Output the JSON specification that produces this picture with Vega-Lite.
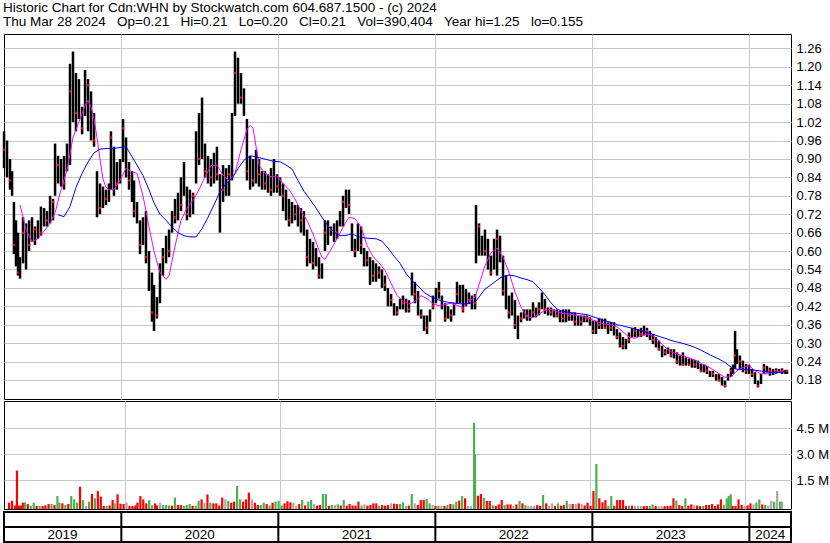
{
"$schema": "https://vega.github.io/schema/vega-lite/v6.json",
"background": "white",
"padding": {"left": 2, "top": 0, "right": 0, "bottom": 0},
"spacing": 0,
"title": {"text": ["Historic Chart for Cdn:WHN by Stockwatch.com 604.687.1500 - (c) 2024", "Thu Mar 28 2024 \u00a0\u00a0Op=0.21 \u00a0\u00a0Hi=0.21 \u00a0\u00a0Lo=0.20 \u00a0\u00a0Cl=0.21 \u00a0\u00a0Vol=390,404 \u00a0\u00a0Year hi=1.25 \u00a0\u00a0lo=0.155"], "anchor": "start", "frame": "bounds", "font": "Liberation Sans", "fontSize": 13.5, "fontWeight": "normal", "color": "black", "lineHeight": 14.5, "offset": 5, "dx": 1},
"config": {"title": {"font": "Liberation Sans", "fontSize": 13.5, "fontWeight": "normal", "color": "black", "anchor": "start"}, "view": {"stroke": "black", "strokeWidth": 1}, "axis": {"labelFont": "Liberation Sans", "labelFontSize": 13, "labelColor": "black", "labelOverlap": false}, "text": {"font": "Liberation Sans"}},
"datasets": {
"d": [
{"t":2019.253,"h":0.99,"l":0.87,"c":0.93,"v":210,"k":"r"},
{"t":2019.272,"h":0.96,"l":0.84,"v":320,"k":"r"},
{"t":2019.291,"h":0.90,"l":0.80,"c":0.83,"v":50,"k":"r"},
{"t":2019.304,"h":0.86,"l":0.78,"v":2060,"k":"r"},
{"t":2019.316,"h":0.76,"l":0.59,"c":0.62,"v":40,"k":"r"},
{"t":2019.329,"h":0.70,"l":0.55,"v":50,"k":"r"},
{"t":2019.342,"h":0.66,"l":0.52,"c":0.53,"v":210,"k":"r"},
{"t":2019.355,"h":0.58,"l":0.51,"v":230,"k":"g","a":0.75},
{"t":2019.374,"h":0.71,"l":0.56,"c":0.66,"v":130,"k":"r"},
{"t":2019.393,"h":0.69,"l":0.54,"v":30,"k":"g","a":0.67},
{"t":2019.412,"h":0.70,"l":0.60,"c":0.62,"v":210,"k":"g"},
{"t":2019.431,"h":0.71,"l":0.63,"v":20,"k":"r","a":0.63},
{"t":2019.450,"h":0.68,"l":0.62,"c":0.67,"v":30,"k":"g"},
{"t":2019.469,"h":0.70,"l":0.64,"v":20,"k":"r","a":0.64},
{"t":2019.488,"h":0.745,"l":0.65,"c":0.66,"v":50,"k":"r"},
{"t":2019.508,"h":0.74,"l":0.68,"v":130,"k":"r","a":0.665},
{"t":2019.527,"h":0.73,"l":0.68,"c":0.70,"v":130,"k":"g"},
{"t":2019.546,"h":0.78,"l":0.69,"v":70,"k":"r","a":0.69},
{"t":2019.565,"h":0.77,"l":0.70,"c":0.76,"v":590,"k":"g"},
{"t":2019.578,"h":0.95,"l":0.78,"v":210,"k":"g","a":0.725},
{"t":2019.597,"h":0.91,"l":0.82,"c":0.88,"v":170,"k":"r","b":0.718},
{"t":2019.616,"h":0.90,"l":0.81,"v":70,"k":"g","a":0.80},
{"t":2019.635,"h":0.91,"l":0.80,"c":0.82,"v":130,"k":"r","b":0.712},
{"t":2019.654,"h":0.95,"l":0.86,"v":590,"k":"g","a":0.864},
{"t":2019.673,"h":1.21,"l":0.88,"c":1.12,"v":400,"k":"g","b":0.745},
{"t":2019.692,"h":1.25,"l":1.02,"v":210,"k":"g","a":0.97},
{"t":2019.711,"h":1.18,"l":0.99,"c":1.05,"v":1130,"k":"r","b":0.807},
{"t":2019.730,"h":1.16,"l":1.03,"v":360,"k":"g","a":1.02},
{"t":2019.750,"h":1.07,"l":0.98,"c":1.00,"v":20,"k":"n","b":0.853},
{"t":2019.769,"h":1.19,"l":1.04,"v":270,"k":"g","a":1.075},
{"t":2019.788,"h":1.16,"l":0.99,"c":1.14,"v":710,"k":"r","a":1.09,"b":0.89},
{"t":2019.807,"h":1.12,"l":0.96,"v":460,"k":"g","a":1.07},
{"t":2019.826,"h":1.05,"l":0.94,"c":0.96,"v":880,"k":"r","a":1.03,"b":0.92},
{"t":2019.845,"h":0.86,"l":0.71,"v":560,"k":"r","a":0.97},
{"t":2019.864,"h":0.82,"l":0.72,"c":0.74,"v":20,"k":"r","a":0.90,"b":0.932},
{"t":2019.883,"h":0.81,"l":0.74,"v":20,"k":"g","a":0.835},
{"t":2019.902,"h":0.80,"l":0.75,"c":0.77,"v":50,"k":"r","a":0.808,"b":0.934},
{"t":2019.921,"h":0.82,"l":0.76,"v":360,"k":"r","a":0.80},
{"t":2019.934,"h":0.99,"l":0.80,"c":0.97,"v":170,"k":"g"},
{"t":2019.953,"h":0.94,"l":0.78,"v":690,"k":"r","a":0.80,"b":0.934},
{"t":2019.972,"h":0.89,"l":0.80,"c":0.82,"v":150,"k":"r"},
{"t":2019.992,"h":0.90,"l":0.82,"v":130,"k":"r","a":0.83,"b":0.938},
{"t":2020.011,"h":1.03,"l":0.89,"c":1.00,"v":210,"k":"n"},
{"t":2020.030,"h":0.97,"l":0.84,"v":20,"k":"r","a":0.87,"b":0.94},
{"t":2020.049,"h":0.89,"l":0.80,"c":0.83,"v":20,"k":"r"},
{"t":2020.068,"h":0.86,"l":0.76,"v":50,"k":"r","a":0.858,"b":0.907},
{"t":2020.081,"h":0.83,"l":0.71,"c":0.73,"v":210,"k":"r"},
{"t":2020.100,"h":0.76,"l":0.69,"v":590,"k":"r","a":0.853,"b":0.88},
{"t":2020.119,"h":0.70,"l":0.59,"c":0.62,"v":400,"k":"r"},
{"t":2020.138,"h":0.71,"l":0.62,"v":170,"k":"r","a":0.78,"b":0.846},
{"t":2020.157,"h":0.73,"l":0.56,"c":0.58,"v":360,"k":"g"},
{"t":2020.176,"h":0.60,"l":0.47,"v":60,"k":"g","a":0.68,"b":0.80},
{"t":2020.195,"h":0.53,"l":0.37,"c":0.40,"v":170,"k":"r"},
{"t":2020.208,"h":0.49,"l":0.34,"v":50,"k":"r","a":0.60,"b":0.757},
{"t":2020.227,"h":0.45,"l":0.38,"c":0.39,"v":210,"k":"n"},
{"t":2020.246,"h":0.56,"l":0.43,"v":70,"k":"g","a":0.53,"b":0.72},
{"t":2020.265,"h":0.61,"l":0.52,"c":0.58,"v":70,"k":"g"},
{"t":2020.285,"h":0.65,"l":0.56,"v":50,"k":"g","a":0.508,"b":0.70},
{"t":2020.304,"h":0.67,"l":0.58,"c":0.60,"v":40,"k":"r","a":0.52},
{"t":2020.323,"h":0.73,"l":0.66,"v":500,"k":"g","b":0.678},
{"t":2020.342,"h":0.77,"l":0.69,"c":0.71,"v":70,"k":"r","a":0.615},
{"t":2020.361,"h":0.79,"l":0.70,"v":70,"k":"r","b":0.66},
{"t":2020.380,"h":0.84,"l":0.73,"c":0.75,"v":30,"k":"g","a":0.70},
{"t":2020.399,"h":0.89,"l":0.78,"v":70,"k":"g","b":0.65},
{"t":2020.418,"h":0.81,"l":0.70,"c":0.72,"v":130,"k":"g","a":0.74},
{"t":2020.437,"h":0.80,"l":0.71,"v":30,"k":"r","b":0.646},
{"t":2020.457,"h":0.79,"l":0.72,"c":0.78,"v":30,"k":"g","a":0.765},
{"t":2020.476,"h":0.99,"l":0.82,"v":320,"k":"g","b":0.646},
{"t":2020.495,"h":1.05,"l":0.88,"c":0.90,"v":400,"k":"r","a":0.80},
{"t":2020.514,"h":1.10,"l":0.90,"v":210,"k":"n","b":0.673},
{"t":2020.533,"h":0.95,"l":0.84,"c":0.86,"v":690,"k":"r","a":0.842},
{"t":2020.552,"h":0.91,"l":0.82,"v":210,"k":"g","b":0.71},
{"t":2020.571,"h":0.90,"l":0.81,"c":0.84,"v":170,"k":"r","a":0.878},
{"t":2020.590,"h":0.92,"l":0.82,"v":170,"k":"r","b":0.75},
{"t":2020.609,"h":0.94,"l":0.83,"c":0.85,"v":50,"k":"r","a":0.88},
{"t":2020.628,"h":0.85,"l":0.66,"v":500,"k":"r","b":0.793},
{"t":2020.648,"h":0.88,"l":0.76,"c":0.80,"v":400,"k":"n","a":0.847},
{"t":2020.667,"h":0.87,"l":0.78,"v":320,"k":"g","b":0.82},
{"t":2020.686,"h":0.88,"l":0.78,"c":0.85,"v":210,"k":"r","a":0.828},
{"t":2020.705,"h":1.05,"l":0.83,"v":270,"k":"r","b":0.837},
{"t":2020.724,"h":1.25,"l":1.04,"c":1.18,"v":1170,"k":"g","a":0.853},
{"t":2020.743,"h":1.23,"l":1.08,"v":400,"k":"g","b":0.868},
{"t":2020.762,"h":1.18,"l":1.08,"c":1.10,"v":270,"k":"r","a":0.93},
{"t":2020.781,"h":1.13,"l":1.04,"v":400,"k":"r","b":0.896},
{"t":2020.800,"h":1.03,"l":0.83,"c":0.86,"v":790,"k":"r","a":0.995},
{"t":2020.820,"h":0.91,"l":0.80,"v":400,"k":"n","a":1.01,"b":0.91},
{"t":2020.839,"h":0.90,"l":0.81,"c":0.83,"v":210,"k":"r","a":1.00},
{"t":2020.858,"h":0.93,"l":0.82,"v":70,"k":"r","a":0.94,"b":0.907},
{"t":2020.877,"h":0.90,"l":0.81,"c":0.85,"v":70,"k":"g","a":0.88},
{"t":2020.896,"h":0.86,"l":0.80,"v":210,"k":"g","b":0.902},
{"t":2020.915,"h":0.86,"l":0.80,"c":0.82,"v":130,"k":"r","a":0.853},
{"t":2020.934,"h":0.85,"l":0.79,"v":40,"k":"g","b":0.897},
{"t":2020.953,"h":0.87,"l":0.78,"c":0.80,"v":210,"k":"r","a":0.842},
{"t":2020.972,"h":0.90,"l":0.79,"v":270,"k":"g","b":0.892},
{"t":2020.992,"h":0.85,"l":0.79,"c":0.81,"v":320,"k":"g","a":0.845},
{"t":2021.011,"h":0.84,"l":0.78,"v":50,"k":"g","b":0.891},
{"t":2021.030,"h":0.82,"l":0.73,"c":0.78,"v":170,"k":"r","a":0.82},
{"t":2021.049,"h":0.80,"l":0.70,"v":290,"k":"r","b":0.88},
{"t":2021.068,"h":0.77,"l":0.68,"c":0.70,"v":230,"k":"r","a":0.80},
{"t":2021.087,"h":0.76,"l":0.69,"v":210,"k":"n","b":0.867},
{"t":2021.106,"h":0.75,"l":0.70,"c":0.72,"v":40,"k":"n","a":0.77},
{"t":2021.125,"h":0.75,"l":0.68,"v":130,"k":"r","b":0.83},
{"t":2021.144,"h":0.74,"l":0.66,"c":0.70,"v":360,"k":"g","a":0.73},
{"t":2021.163,"h":0.73,"l":0.65,"v":50,"k":"r","b":0.795},
{"t":2021.183,"h":0.67,"l":0.55,"c":0.58,"v":270,"k":"g","a":0.70},
{"t":2021.202,"h":0.64,"l":0.56,"v":360,"k":"g","b":0.768},
{"t":2021.221,"h":0.63,"l":0.54,"c":0.56,"v":130,"k":"n","a":0.655},
{"t":2021.240,"h":0.61,"l":0.55,"v":40,"k":"r","b":0.74},
{"t":2021.259,"h":0.58,"l":0.51,"c":0.52,"v":70,"k":"r","a":0.603},
{"t":2021.278,"h":0.56,"l":0.51,"v":710,"k":"g","a":0.58,"b":0.71},
{"t":2021.297,"h":0.70,"l":0.60,"c":0.66,"v":710,"k":"g","a":0.573},
{"t":2021.316,"h":0.70,"l":0.62,"v":30,"k":"r","b":0.682},
{"t":2021.335,"h":0.68,"l":0.65,"c":0.67,"v":70,"k":"g","a":0.605},
{"t":2021.355,"h":0.69,"l":0.63,"v":70,"k":"n","b":0.662},
{"t":2021.374,"h":0.70,"l":0.64,"c":0.66,"v":110,"k":"g","a":0.64},
{"t":2021.393,"h":0.73,"l":0.68,"v":50,"k":"r","b":0.65},
{"t":2021.412,"h":0.78,"l":0.68,"c":0.76,"v":360,"k":"g","a":0.678},
{"t":2021.431,"h":0.80,"l":0.74,"v":40,"k":"r","b":0.651},
{"t":2021.450,"h":0.80,"l":0.72,"c":0.75,"v":130,"k":"r","a":0.71},
{"t":2021.469,"h":0.69,"l":0.60,"v":50,"k":"r","b":0.656},
{"t":2021.488,"h":0.64,"l":0.58,"c":0.60,"v":40,"k":"r","a":0.706},
{"t":2021.507,"h":0.69,"l":0.60,"v":270,"k":"r","b":0.647},
{"t":2021.527,"h":0.68,"l":0.59,"c":0.62,"v":40,"k":"g","a":0.678},
{"t":2021.546,"h":0.61,"l":0.55,"v":110,"k":"n","b":0.643},
{"t":2021.565,"h":0.60,"l":0.55,"c":0.57,"v":40,"k":"r","a":0.618},
{"t":2021.584,"h":0.58,"l":0.49,"v":70,"k":"r","b":0.641},
{"t":2021.603,"h":0.57,"l":0.50,"c":0.52,"v":170,"k":"r","a":0.582},
{"t":2021.622,"h":0.56,"l":0.50,"v":170,"k":"r","b":0.64},
{"t":2021.641,"h":0.55,"l":0.51,"c":0.53,"v":40,"k":"g","a":0.562},
{"t":2021.660,"h":0.54,"l":0.48,"v":70,"k":"r","b":0.632},
{"t":2021.679,"h":0.52,"l":0.47,"c":0.49,"v":40,"k":"r","a":0.537},
{"t":2021.698,"h":0.48,"l":0.42,"v":70,"k":"r","b":0.61},
{"t":2021.718,"h":0.46,"l":0.42,"c":0.44,"v":170,"k":"n","a":0.495},
{"t":2021.737,"h":0.43,"l":0.39,"v":150,"k":"r","b":0.583},
{"t":2021.756,"h":0.42,"l":0.39,"c":0.40,"v":130,"k":"r","a":0.455},
{"t":2021.775,"h":0.445,"l":0.41,"v":130,"k":"g","b":0.56},
{"t":2021.794,"h":0.455,"l":0.41,"c":0.43,"v":230,"k":"g","a":0.438},
{"t":2021.813,"h":0.445,"l":0.40,"v":20,"k":"n","b":0.527},
{"t":2021.832,"h":0.44,"l":0.40,"c":0.41,"v":40,"k":"r","a":0.427},
{"t":2021.851,"h":0.53,"l":0.455,"v":710,"k":"g","b":0.504},
{"t":2021.870,"h":0.50,"l":0.43,"c":0.46,"v":170,"k":"n","a":0.436},
{"t":2021.890,"h":0.47,"l":0.39,"v":80,"k":"r","b":0.486},
{"t":2021.909,"h":0.41,"l":0.38,"c":0.39,"v":360,"k":"r","a":0.455},
{"t":2021.928,"h":0.39,"l":0.34,"v":360,"k":"r","b":0.465},
{"t":2021.947,"h":0.39,"l":0.33,"c":0.35,"v":420,"k":"g","a":0.445},
{"t":2021.966,"h":0.41,"l":0.37,"v":170,"k":"g","b":0.453},
{"t":2021.985,"h":0.455,"l":0.41,"c":0.42,"v":70,"k":"n","a":0.428},
{"t":2022.004,"h":0.48,"l":0.43,"v":20,"k":"r","b":0.444},
{"t":2022.023,"h":0.50,"l":0.445,"c":0.47,"v":40,"k":"g","a":0.422},
{"t":2022.042,"h":0.455,"l":0.41,"v":20,"k":"n","b":0.437},
{"t":2022.062,"h":0.43,"l":0.37,"c":0.38,"v":20,"k":"r","a":0.426},
{"t":2022.081,"h":0.42,"l":0.38,"v":70,"k":"g","b":0.433},
{"t":2022.100,"h":0.41,"l":0.37,"c":0.39,"v":130,"k":"r","a":0.43},
{"t":2022.119,"h":0.43,"l":0.39,"v":110,"k":"g","b":0.431},
{"t":2022.138,"h":0.50,"l":0.43,"c":0.46,"v":270,"k":"g","a":0.423},
{"t":2022.157,"h":0.49,"l":0.43,"v":330,"k":"r","b":0.428},
{"t":2022.176,"h":0.49,"l":0.40,"c":0.41,"v":590,"k":"g","a":0.415},
{"t":2022.195,"h":0.476,"l":0.42,"v":460,"k":"r","b":0.428},
{"t":2022.214,"h":0.465,"l":0.427,"c":0.44,"v":20,"k":"n","a":0.435},
{"t":2022.233,"h":0.455,"l":0.41,"v":20,"k":"n","b":0.432},
{"t":2022.253,"h":0.46,"l":0.41,"c":0.43,"v":4820,"k":"g","a":0.45},
{"t":2022.259,"h":0.75,"l":0.56,"v":3000,"k":"g","b":0.437},
{"t":2022.278,"h":0.69,"l":0.585,"c":0.68,"v":610,"k":"r","a":0.49,"b":0.45},
{"t":2022.297,"h":0.65,"l":0.585,"v":710,"k":"r"},
{"t":2022.316,"h":0.67,"l":0.585,"c":0.60,"v":480,"k":"g","a":0.552,"b":0.476},
{"t":2022.335,"h":0.64,"l":0.54,"v":310,"k":"r"},
{"t":2022.354,"h":0.585,"l":0.52,"c":0.53,"v":310,"k":"r","a":0.594,"b":0.49},
{"t":2022.374,"h":0.64,"l":0.54,"v":60,"k":"g"},
{"t":2022.393,"h":0.67,"l":0.52,"c":0.64,"v":30,"k":"r","a":0.61,"b":0.505},
{"t":2022.412,"h":0.65,"l":0.563,"v":110,"k":"r"},
{"t":2022.431,"h":0.585,"l":0.455,"c":0.47,"v":360,"k":"r","a":0.58,"b":0.518},
{"t":2022.450,"h":0.52,"l":0.41,"v":70,"k":"g"},
{"t":2022.469,"h":0.455,"l":0.38,"c":0.40,"v":110,"k":"r","a":0.53,"b":0.522},
{"t":2022.488,"h":0.465,"l":0.39,"v":110,"k":"r"},
{"t":2022.507,"h":0.44,"l":0.346,"c":0.36,"v":20,"k":"n","a":0.467,"b":0.519},
{"t":2022.526,"h":0.39,"l":0.313,"v":110,"k":"r"},
{"t":2022.546,"h":0.40,"l":0.368,"c":0.38,"v":310,"k":"g","a":0.417,"b":0.512},
{"t":2022.565,"h":0.41,"l":0.38,"v":170,"k":"r"},
{"t":2022.584,"h":0.41,"l":0.373,"c":0.39,"v":60,"k":"g","a":0.385,"b":0.507},
{"t":2022.603,"h":0.41,"l":0.373,"v":20,"k":"n"},
{"t":2022.622,"h":0.433,"l":0.384,"c":0.40,"v":20,"k":"n","a":0.383,"b":0.50},
{"t":2022.641,"h":0.416,"l":0.384,"v":20,"k":"n"},
{"t":2022.660,"h":0.433,"l":0.39,"c":0.41,"v":70,"k":"r","a":0.395,"b":0.48},
{"t":2022.679,"h":0.465,"l":0.41,"v":30,"k":"r"},
{"t":2022.698,"h":0.444,"l":0.395,"c":0.41,"v":650,"k":"g","a":0.407,"b":0.458},
{"t":2022.718,"h":0.416,"l":0.39,"v":170,"k":"r"},
{"t":2022.737,"h":0.416,"l":0.39,"c":0.40,"v":30,"k":"n","a":0.41,"b":0.431},
{"t":2022.756,"h":0.41,"l":0.384,"v":170,"k":"n"},
{"t":2022.775,"h":0.41,"l":0.384,"c":0.39,"v":30,"k":"r","a":0.402,"b":0.411},
{"t":2022.794,"h":0.405,"l":0.368,"v":170,"k":"g"},
{"t":2022.813,"h":0.41,"l":0.368,"c":0.38,"v":40,"k":"r","a":0.396,"b":0.403},
{"t":2022.832,"h":0.41,"l":0.368,"v":70,"k":"r"},
{"t":2022.851,"h":0.41,"l":0.373,"c":0.39,"v":310,"k":"g","a":0.395,"b":0.40},
{"t":2022.870,"h":0.40,"l":0.373,"v":130,"k":"n"},
{"t":2022.889,"h":0.40,"l":0.357,"c":0.37,"v":130,"k":"r","a":0.392,"b":0.398},
{"t":2022.909,"h":0.39,"l":0.357,"v":130,"k":"n"},
{"t":2022.928,"h":0.39,"l":0.357,"c":0.37,"v":170,"k":"r","a":0.388,"b":0.395},
{"t":2022.947,"h":0.39,"l":0.368,"v":130,"k":"n"},
{"t":2022.966,"h":0.39,"l":0.368,"c":0.38,"v":50,"k":"r","a":0.384,"b":0.393},
{"t":2022.985,"h":0.384,"l":0.357,"v":210,"k":"r"},
{"t":2023.004,"h":0.373,"l":0.33,"c":0.34,"v":20,"k":"r","a":0.375,"b":0.386},
{"t":2023.023,"h":0.373,"l":0.33,"v":880,"k":"r"},
{"t":2023.042,"h":0.38,"l":0.346,"c":0.36,"v":2440,"k":"g","a":0.368,"b":0.38},
{"t":2023.061,"h":0.38,"l":0.346,"v":460,"k":"r"},
{"t":2023.081,"h":0.38,"l":0.346,"c":0.35,"v":230,"k":"r","a":0.362,"b":0.373},
{"t":2023.100,"h":0.368,"l":0.33,"v":360,"k":"r"},
{"t":2023.119,"h":0.368,"l":0.34,"c":0.35,"v":30,"k":"g","a":0.36,"b":0.368},
{"t":2023.138,"h":0.368,"l":0.325,"v":590,"k":"g"},
{"t":2023.157,"h":0.346,"l":0.313,"c":0.32,"v":30,"k":"r","a":0.353,"b":0.36},
{"t":2023.176,"h":0.335,"l":0.286,"v":360,"k":"r"},
{"t":2023.195,"h":0.32,"l":0.28,"c":0.29,"v":360,"k":"r","a":0.337,"b":0.356},
{"t":2023.214,"h":0.314,"l":0.28,"v":360,"k":"r"},
{"t":2023.233,"h":0.335,"l":0.30,"c":0.31,"v":20,"k":"r","a":0.32,"b":0.351},
{"t":2023.253,"h":0.35,"l":0.32,"v":40,"k":"g"},
{"t":2023.272,"h":0.352,"l":0.32,"c":0.34,"v":40,"k":"r","a":0.316,"b":0.346},
{"t":2023.291,"h":0.346,"l":0.32,"v":10,"k":"n"},
{"t":2023.310,"h":0.35,"l":0.32,"c":0.33,"v":10,"k":"n","a":0.324,"b":0.341},
{"t":2023.329,"h":0.357,"l":0.325,"v":10,"k":"n"},
{"t":2023.348,"h":0.35,"l":0.32,"c":0.34,"v":10,"k":"r","a":0.33,"b":0.335},
{"t":2023.367,"h":0.34,"l":0.31,"v":20,"k":"r"},
{"t":2023.386,"h":0.33,"l":0.297,"c":0.31,"v":20,"k":"g","a":0.324,"b":0.329},
{"t":2023.405,"h":0.32,"l":0.286,"v":110,"k":"g"},
{"t":2023.424,"h":0.308,"l":0.276,"c":0.28,"v":20,"k":"r","a":0.308,"b":0.322},
{"t":2023.444,"h":0.292,"l":0.254,"v":10,"k":"n"},
{"t":2023.463,"h":0.28,"l":0.26,"c":0.27,"v":10,"k":"n","a":0.287,"b":0.316},
{"t":2023.482,"h":0.286,"l":0.265,"v":10,"k":"r"},
{"t":2023.501,"h":0.28,"l":0.254,"c":0.26,"v":20,"k":"r","a":0.272,"b":0.309},
{"t":2023.520,"h":0.28,"l":0.25,"v":30,"k":"r"},
{"t":2023.539,"h":0.27,"l":0.232,"c":0.24,"v":460,"k":"r","a":0.265,"b":0.304},
{"t":2023.558,"h":0.26,"l":0.227,"v":330,"k":"g"},
{"t":2023.577,"h":0.27,"l":0.227,"c":0.23,"v":70,"k":"r","a":0.259,"b":0.299},
{"t":2023.596,"h":0.254,"l":0.227,"v":20,"k":"r"},
{"t":2023.616,"h":0.25,"l":0.227,"c":0.23,"v":460,"k":"g","a":0.252,"b":0.293},
{"t":2023.635,"h":0.248,"l":0.22,"v":40,"k":"r"},
{"t":2023.654,"h":0.245,"l":0.22,"c":0.23,"v":110,"k":"r","a":0.245,"b":0.286},
{"t":2023.673,"h":0.243,"l":0.216,"v":70,"k":"n"},
{"t":2023.692,"h":0.232,"l":0.205,"c":0.21,"v":40,"k":"r","a":0.234,"b":0.277},
{"t":2023.711,"h":0.23,"l":0.205,"v":20,"k":"r"},
{"t":2023.730,"h":0.226,"l":0.20,"c":0.21,"v":20,"k":"g","a":0.225,"b":0.267},
{"t":2023.749,"h":0.21,"l":0.19,"v":70,"k":"r"},
{"t":2023.768,"h":0.21,"l":0.19,"c":0.20,"v":70,"k":"r","a":0.214,"b":0.257},
{"t":2023.788,"h":0.20,"l":0.178,"v":130,"k":"r"},
{"t":2023.807,"h":0.20,"l":0.175,"c":0.18,"v":20,"k":"r","a":0.20,"b":0.248},
{"t":2023.826,"h":0.19,"l":0.162,"v":110,"k":"r"},
{"t":2023.845,"h":0.178,"l":0.156,"c":0.16,"v":400,"k":"r","a":0.189,"b":0.237},
{"t":2023.864,"h":0.20,"l":0.178,"v":70,"k":"g"},
{"t":2023.883,"h":0.22,"l":0.19,"c":0.21,"v":460,"k":"g","a":0.19,"b":0.222},
{"t":2023.896,"h":0.23,"l":0.20,"v":590,"k":"g"},
{"t":2023.909,"h":0.34,"l":0.216,"c":0.26,"v":690,"k":"g"},
{"t":2023.921,"h":0.28,"l":0.232,"v":20,"k":"r","a":0.21,"b":0.215},
{"t":2023.940,"h":0.26,"l":0.216,"c":0.24,"v":20,"k":"r"},
{"t":2023.959,"h":0.243,"l":0.205,"v":400,"k":"r","a":0.221,"b":0.214},
{"t":2023.979,"h":0.232,"l":0.20,"c":0.21,"v":70,"k":"r"},
{"t":2023.998,"h":0.23,"l":0.20,"v":20,"k":"n","a":0.227,"b":0.214},
{"t":2024.017,"h":0.216,"l":0.19,"c":0.20,"v":50,"k":"r"},
{"t":2024.036,"h":0.205,"l":0.167,"v":170,"k":"r","a":0.21,"b":0.212},
{"t":2024.055,"h":0.178,"l":0.156,"c":0.16,"v":110,"k":"n"},
{"t":2024.074,"h":0.20,"l":0.167,"v":210,"k":"g","a":0.20,"b":0.209},
{"t":2024.093,"h":0.232,"l":0.20,"c":0.22,"v":400,"k":"g"},
{"t":2024.112,"h":0.226,"l":0.205,"v":110,"k":"r","a":0.20,"b":0.206},
{"t":2024.131,"h":0.22,"l":0.194,"c":0.21,"v":70,"k":"g"},
{"t":2024.151,"h":0.216,"l":0.196,"v":40,"k":"n","a":0.205,"b":0.205},
{"t":2024.170,"h":0.218,"l":0.20,"c":0.21,"v":310,"k":"n"},
{"t":2024.189,"h":0.216,"l":0.203,"v":270,"k":"g","a":0.206,"b":0.205},
{"t":2024.208,"h":0.218,"l":0.20,"c":0.21,"v":880,"k":"n"},
{"t":2024.227,"h":0.213,"l":0.20,"v":270,"k":"g","a":0.209,"b":0.206},
{"t":2024.240,"h":0.21,"l":0.20,"c":0.21,"v":270,"k":"n"}
],
"years": [{"yr":2020},{"yr":2021},{"yr":2022},{"yr":2023},{"yr":2024}],
"labels": [{"m":2019.626,"lab":"2019"},{"m":2020.5,"lab":"2020"},{"m":2021.5,"lab":"2021"},{"m":2022.5,"lab":"2022"},{"m":2023.5,"lab":"2023"},{"m":2024.133,"lab":"2024"}]
},
"vconcat": [
{
 "width": 787, "height": 365,
 "data": {"name": "d"},
 "encoding": {"x": {"field": "t", "type": "quantitative", "title": null, "scale": {"domain": [2019.2527, 2024.2652], "nice": false, "zero": false}, "axis": {"values": [2020, 2021, 2022, 2023, 2024], "tickCount": 40, "labels": false, "ticks": false, "domain": false, "grid": true, "gridColor": "#c8c8c8", "title": null}}},
 "layer": [
  {"mark": {"type": "rule", "color": "black", "strokeWidth": 2.5}, "encoding": {"y": {"field": "h", "type": "quantitative", "title": null, "scale": {"domain": [0.1181, 1.307], "nice": false, "zero": false}, "axis": {"orient": "right", "values": [0.18, 0.24, 0.30, 0.36, 0.42, 0.48, 0.54, 0.60, 0.66, 0.72, 0.78, 0.84, 0.90, 0.96, 1.02, 1.08, 1.14, 1.20, 1.26], "tickCount": 40, "format": ".2f", "grid": true, "gridColor": "#c8c8c8", "ticks": false, "domain": false, "labelPadding": 5, "labelOverlap": false, "title": null}}, "y2": {"field": "l"}}},
  {"transform": [{"filter": "isValid(datum.c)"}], "mark": {"type": "square", "color": "red", "size": 5, "opacity": 1}, "encoding": {"y": {"field": "c", "type": "quantitative", "title": null}}},
  {"transform": [{"filter": "isValid(datum.a)"}], "mark": {"type": "line", "color": "#ff00ff", "strokeWidth": 1}, "encoding": {"y": {"field": "a", "type": "quantitative", "title": null}}},
  {"transform": [{"filter": "isValid(datum.b)"}], "mark": {"type": "line", "color": "#0000ff", "strokeWidth": 1}, "encoding": {"y": {"field": "b", "type": "quantitative", "title": null}}},
  {"data": {"values": [{"lab": "Cdn:WHN"}]}, "mark": {"type": "text", "align": "left", "baseline": "middle", "fontSize": 13.5, "color": "black"}, "encoding": {"x": {"datum": 2019.291}, "y": {"datum": 1.281}, "text": {"field": "lab"}}}
 ]
},
{
 "width": 787, "height": 108,
 "data": {"name": "d"},
 "encoding": {"x": {"field": "t", "type": "quantitative", "title": null, "scale": {"domain": [2019.2527, 2024.2652], "nice": false, "zero": false}, "axis": {"values": [2020, 2021, 2022, 2023, 2024], "tickCount": 40, "labels": false, "ticks": false, "domain": false, "grid": true, "gridColor": "#c8c8c8", "title": null}}},
 "layer": [
  {"mark": {"type": "bar", "width": 2.2}, "encoding": {"y": {"field": "v", "type": "quantitative", "title": null, "scale": {"domain": [-156, 6076], "nice": false, "zero": false}, "axis": {"orient": "right", "values": [1500, 3000, 4500], "tickCount": 40, "labelExpr": "format(datum.value/1000, '.1f') + ' M'", "grid": true, "gridColor": "#c8c8c8", "ticks": false, "domain": false, "labelPadding": 5, "title": null}}, "y2": {"datum": -156}, "color": {"field": "k", "type": "nominal", "scale": {"domain": ["r", "g", "n"], "range": ["#ff0000", "#4caf50", "#a8a8a8"]}, "legend": null}}},
  {"data": {"values": [{"lab": "Volume"}]}, "mark": {"type": "text", "align": "left", "baseline": "middle", "fontSize": 13.5, "color": "black"}, "encoding": {"x": {"datum": 2019.291}, "y": {"datum": 5380}, "text": {"field": "lab"}}}
 ]
},
{
 "width": 787, "height": 30,
 "view": {"stroke": "black", "strokeWidth": 2},
 "layer": [
  {"data": {"name": "years"}, "mark": {"type": "rule", "color": "black", "strokeWidth": 2}, "encoding": {"x": {"field": "yr", "type": "quantitative", "scale": {"domain": [2019.2527, 2024.2652], "nice": false, "zero": false}, "axis": null}}},
  {"data": {"values": [{}]}, "mark": {"type": "rule", "color": "black", "strokeWidth": 2}, "encoding": {"y": {"datum": 1.0, "scale": {"domain": [0, 2], "nice": false}, "axis": null}}},
  {"data": {"name": "labels"}, "mark": {"type": "text", "fontSize": 13.5, "baseline": "middle", "align": "center", "color": "black"}, "encoding": {"x": {"field": "m", "type": "quantitative", "axis": null}, "y": {"datum": 0.5}, "text": {"field": "lab"}}}
 ]
}
]
}
